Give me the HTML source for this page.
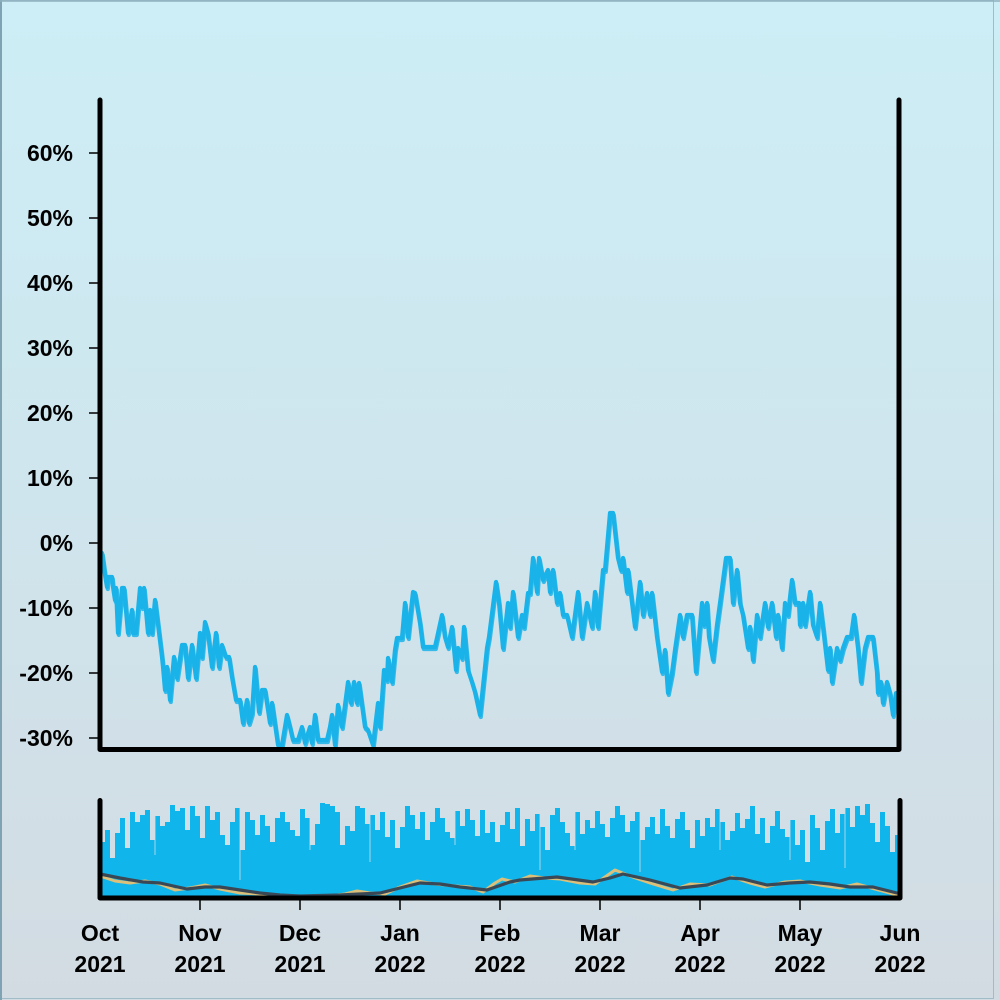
<!DOCTYPE html>
<html>
<head>
<meta charset="utf-8">
<style>
html,body{margin:0;padding:0;}
body{width:1000px;height:1000px;overflow:hidden;}
.wrap{position:relative;width:1000px;height:1000px;background:linear-gradient(to bottom,#cdeef6 0%,#cfe5ed 50%,#d3dbe2 100%);}
svg{position:absolute;left:0;top:0;}
text{font-family:"Liberation Sans",Arial,sans-serif;font-weight:bold;font-size:23px;fill:#000;}
</style>
</head>
<body>
<div class="wrap">
<svg width="1000" height="1000" viewBox="0 0 1000 1000">
  <!-- frame -->
  <rect x="0.5" y="0.5" width="993" height="998" fill="none" stroke="#9fbcc8" stroke-width="1"/>
  <line x1="1" y1="0" x2="1" y2="1000" stroke="#7fa3b3" stroke-width="2"/>
  <line x1="0" y1="1" x2="1000" y2="1" stroke="#8fb1bf" stroke-width="1.5"/>

  <!-- Y tick labels -->
  <g text-anchor="end">
    <text x="73" y="161">60%</text>
    <text x="73" y="226">50%</text>
    <text x="73" y="291">40%</text>
    <text x="73" y="356">30%</text>
    <text x="73" y="421">20%</text>
    <text x="73" y="486">10%</text>
    <text x="73" y="551">0%</text>
    <text x="73" y="616">-10%</text>
    <text x="73" y="681">-20%</text>
    <text x="73" y="746">-30%</text>
  </g>
  <!-- Y ticks -->
  <g stroke="#000" stroke-width="1.5">
    <line x1="89" y1="153" x2="98" y2="153"/>
    <line x1="89" y1="218" x2="98" y2="218"/>
    <line x1="89" y1="283" x2="98" y2="283"/>
    <line x1="89" y1="348" x2="98" y2="348"/>
    <line x1="89" y1="413" x2="98" y2="413"/>
    <line x1="89" y1="478" x2="98" y2="478"/>
    <line x1="89" y1="543" x2="98" y2="543"/>
    <line x1="89" y1="608" x2="98" y2="608"/>
    <line x1="89" y1="673" x2="98" y2="673"/>
    <line x1="89" y1="738" x2="98" y2="738"/>
  </g>

  <!-- main line -->
  <g fill="none" stroke="#1ab3e9" stroke-linejoin="round" stroke-linecap="round">
  <polyline id="ml" stroke-width="4.2" points="
102,553 105,575 107,587 108,577 112,577 113,587 115,600 116,588 118,633 122,588 124,588 128,633 132,610 133,633 136,633 140,588 142,607 144,588 148,633 150,610 152,633 155,600 162,657 163,667 165,690 167,667 170,700 174,657 177,678 182,645 185,645 188,678 192,645 196,678 200,633 202,657 205,622 208,633 212,667 216,633 219,667 222,645 226,657 229,657 232,677 236,700 240,700 243,723 247,700 249,723 252,713 255,667 259,712 262,690 265,690 270,723 272,703 278,745 282,745 287,715 290,727 293,740 298,740 302,727 305,743 310,727 312,743 315,715 318,740 327,740 330,727 332,715 335,745 338,705 342,727 345,705 348,682 351,703 354,682 357,703 359,683 365,727 368,730 373,745 378,703 380,727 384,670 387,680 388,658 392,682 395,650 397,638 402,638 405,603 408,637 413,592 415,593 420,623 423,647 435,647 442,615 445,637 448,647 452,627 456,670 458,648 462,658 464,627 468,670 472,682 475,692 480,715 487,648 489,637 496,582 499,603 503,648 508,603 510,627 513,592 518,637 522,615 524,627 528,593 530,593 533,558 537,592 539,558 543,580 548,570 550,592 553,570 557,603 560,593 563,615 567,615 572,637 575,615 578,592 582,637 587,603 592,627 595,592 598,627 603,570 605,570 610,513 613,513 618,558 621,570 623,558 627,592 628,570 635,627 640,582 643,615 647,593 650,615 652,593 657,637 662,672 665,650 668,693 672,673 675,650 680,615 683,637 687,615 692,615 696,672 702,603 704,625 707,603 709,637 713,660 717,625 720,603 726,558 730,558 733,603 737,570 740,603 743,615 748,648 750,627 753,660 757,615 760,637 765,603 768,627 772,603 776,637 778,615 782,648 785,603 788,615 792,580 795,603 799,603 800,625 803,603 805,625 810,592 813,625 817,637 820,603 823,627 828,670 830,648 832,682 837,648 840,660 843,648 847,637 851,637 854,615 858,648 861,682 865,648 868,637 873,637 877,672 878,693 881,682 883,703 887,682 890,693 893,715 896,693"/>
  <use href="#ml" transform="translate(0.8,2)" stroke-width="2.5" opacity="0.85"/>
  </g>

  <!-- main spines -->
  <path d="M100,100 V749.5 H899 V100" fill="none" stroke="#000" stroke-width="5" stroke-linecap="round" stroke-linejoin="round"/>

  <!-- volume bars -->
  <path fill="#10b5eb" d="M100,896
V842 H105 V830 H110 V858 H115 V833 H120 V818 H125 V848 H130 V812 H135 V822 H140 V815 H145 V810 H150 V840 H155 V816 H160 V826 H165 V822 H170 V805 H175 V811 H180 V808 H185 V830 H190 V806 H195 V816 H200
V838 H205 V806 H210 V820 H215 V812 H220 V835 H225 V845 H230 V822 H235 V808 H240 V850 H245 V812 H250 V820 H255 V835 H260 V815 H265 V826 H270 V842 H275 V818 H280 V812 H285 V822 H290 V830 H295 V836 H300
V809 H305 V818 H310 V845 H315 V824 H320 V803 H325 V804 H330 V806 H335 V812 H340 V845 H345 V826 H350 V831 H355 V806 H360 V808 H365 V824 H370 V815 H375 V830 H380 V812 H385 V837 H390 V820 H395 V848 H400
V827 H405 V806 H410 V815 H415 V829 H420 V812 H425 V840 H430 V822 H435 V808 H440 V818 H445 V832 H450 V838 H455 V811 H460 V826 H465 V809 H470 V820 H475 V836 H480 V810 H485 V833 H490 V822 H495 V842 H500
V825 H505 V812 H510 V829 H515 V808 H520 V846 H525 V819 H530 V831 H535 V814 H540 V827 H545 V850 H550 V815 H555 V808 H560 V822 H565 V833 H570 V846 H575 V812 H580 V834 H585 V820 H590 V828 H595 V811 H600
V824 H605 V837 H610 V818 H615 V806 H620 V815 H625 V832 H630 V821 H635 V812 H640 V840 H645 V827 H650 V817 H655 V834 H660 V809 H665 V826 H670 V838 H675 V819 H680 V812 H685 V830 H690 V848 H695 V820 H700
V836 H705 V818 H710 V827 H715 V809 H720 V822 H725 V840 H730 V831 H735 V813 H740 V828 H745 V819 H750 V806 H755 V834 H760 V818 H765 V843 H770 V826 H775 V811 H780 V829 H785 V837 H790 V820 H795 V845 H800
V830 H805 V862 H810 V815 H815 V828 H820 V850 H825 V821 H830 V809 H835 V833 H840 V814 H845 V808 H850 V827 H855 V806 H860 V815 H865 V804 H870 V823 H875 V842 H880 V812 H885 V826 H890 V852 H895 V835 H900
V896 Z"/>
  <!-- light gaps between some bars -->
  <g stroke="#cfe0e8" stroke-width="1" opacity="0.8">
    <line x1="155" y1="816" x2="155" y2="855"/>
    <line x1="240" y1="808" x2="240" y2="880"/>
    <line x1="310" y1="818" x2="310" y2="850"/>
    <line x1="370" y1="815" x2="370" y2="862"/>
    <line x1="455" y1="811" x2="455" y2="845"/>
    <line x1="540" y1="814" x2="540" y2="870"/>
    <line x1="575" y1="812" x2="575" y2="850"/>
    <line x1="640" y1="812" x2="640" y2="872"/>
    <line x1="720" y1="809" x2="720" y2="850"/>
    <line x1="790" y1="820" x2="790" y2="860"/>
    <line x1="845" y1="808" x2="845" y2="868"/>
  </g>

  <!-- moving averages -->
  <polyline fill="none" stroke="#dcc07a" stroke-width="3" stroke-linejoin="round" stroke-linecap="round" points="100,876 115,881 130,883 145,881 160,884 175,890 190,888 205,885 220,889 240,893 260,894 280,896 300,896 330,896 345,894 357,891 370,893 385,894 400,887 417,881 435,884 455,886 470,887 483,892 495,883 502,879 515,882 530,876 545,878 560,879 580,883 595,884 615,870 630,876 650,883 673,890 690,884 710,885 732,877 750,883 765,887 785,882 800,881 820,885 840,888 857,884 875,889 897,895"/>
  <polyline fill="none" stroke="#3a4856" stroke-width="3.2" stroke-linejoin="round" stroke-linecap="round" points="100,874 120,878 143,882 160,883 187,889 205,887 220,887 240,890 260,893 280,895 300,896 340,895 380,893 400,888 420,883 440,884 460,887 487,890 510,882 520,880 557,877 593,882 610,878 623,874 650,880 680,888 707,885 730,878 743,879 767,885 790,883 810,882 830,884 850,887 873,887 897,893"/>

  <!-- lower spines -->
  <path d="M100,800.5 V898 H900 V800.5" fill="none" stroke="#000" stroke-width="5" stroke-linecap="round" stroke-linejoin="round"/>
  <!-- x ticks -->
  <g stroke="#000" stroke-width="1.5">
    <line x1="200" y1="900" x2="200" y2="910"/>
    <line x1="300" y1="900" x2="300" y2="910"/>
    <line x1="400" y1="900" x2="400" y2="910"/>
    <line x1="500" y1="900" x2="500" y2="910"/>
    <line x1="600" y1="900" x2="600" y2="910"/>
    <line x1="700" y1="900" x2="700" y2="910"/>
    <line x1="800" y1="900" x2="800" y2="910"/>
  </g>

  <!-- x labels -->
  <g text-anchor="middle">
    <text x="100" y="941">Oct</text><text x="100" y="972">2021</text>
    <text x="200" y="941">Nov</text><text x="200" y="972">2021</text>
    <text x="300" y="941">Dec</text><text x="300" y="972">2021</text>
    <text x="400" y="941">Jan</text><text x="400" y="972">2022</text>
    <text x="500" y="941">Feb</text><text x="500" y="972">2022</text>
    <text x="600" y="941">Mar</text><text x="600" y="972">2022</text>
    <text x="700" y="941">Apr</text><text x="700" y="972">2022</text>
    <text x="800" y="941">May</text><text x="800" y="972">2022</text>
    <text x="900" y="941">Jun</text><text x="900" y="972">2022</text>
  </g>
</svg>
</div>
</body>
</html>
